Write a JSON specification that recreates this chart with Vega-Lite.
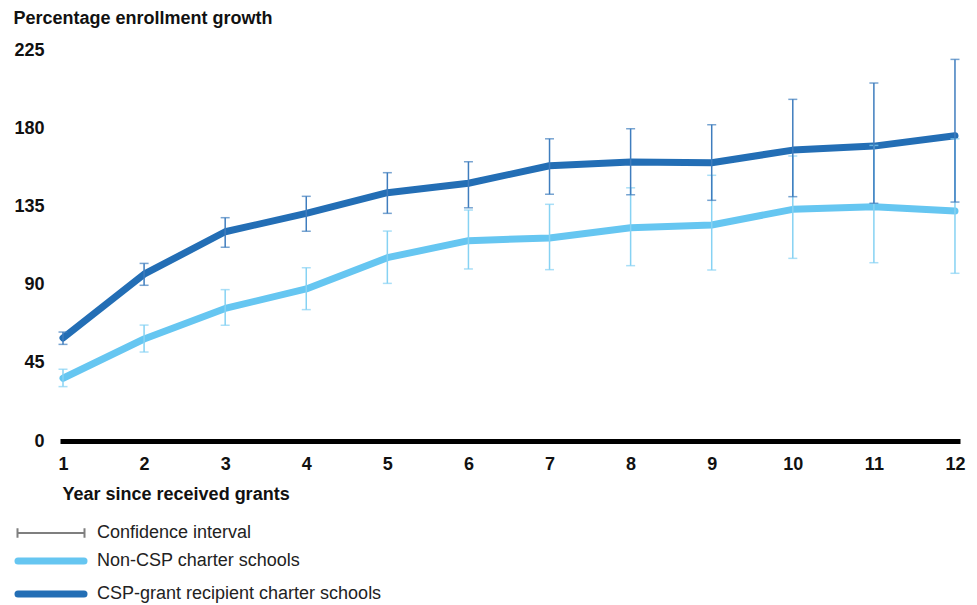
{
  "$schema": "https://vega.github.io/schema/vega-lite/v6.json",
  "width": 900,
  "height": 391,
  "autosize": {"type": "none"},
  "padding": {"left": 60, "top": 50, "right": 17, "bottom": 164},
  "background": "white",
  "config": {
    "font": "Liberation Sans",
    "view": {"stroke": null},
    "axisX": {
      "domain": true, "domainColor": "#000000", "domainWidth": 5, "domainCap": "butt",
      "ticks": false, "grid": false,
      "labelFontSize": 18, "labelFontWeight": "bold", "labelColor": "#111111", "labelPadding": 14,
      "titleFontSize": 18, "titleFontWeight": "bold", "titleColor": "#111111",
      "titleAnchor": "start", "titleAlign": "left", "titleBaseline": "alphabetic", "titleX": 2, "titleY": 58
    },
    "axisY": {
      "domain": false, "ticks": false, "grid": false,
      "labelFontSize": 18, "labelFontWeight": "bold", "labelColor": "#111111", "labelPadding": 16,
      "titleFontSize": 18, "titleFontWeight": "bold", "titleColor": "#111111",
      "titleAngle": 0, "titleAlign": "left", "titleBaseline": "alphabetic", "titleX": -47, "titleY": -27
    },
    "legend": {"padding": 0}
  },
  "data": {
    "values": [
      {"year": 1, "series": "CSP-grant recipient charter schools", "value": 59.3, "lo": 55.6, "hi": 62.7},
      {"year": 2, "series": "CSP-grant recipient charter schools", "value": 96.0, "lo": 89.6, "hi": 102.2},
      {"year": 3, "series": "CSP-grant recipient charter schools", "value": 120.4, "lo": 111.5, "hi": 128.5},
      {"year": 4, "series": "CSP-grant recipient charter schools", "value": 131.0, "lo": 120.7, "hi": 140.8},
      {"year": 5, "series": "CSP-grant recipient charter schools", "value": 142.9, "lo": 131.0, "hi": 154.4},
      {"year": 6, "series": "CSP-grant recipient charter schools", "value": 148.3, "lo": 134.2, "hi": 160.7},
      {"year": 7, "series": "CSP-grant recipient charter schools", "value": 158.4, "lo": 142.0, "hi": 173.9},
      {"year": 8, "series": "CSP-grant recipient charter schools", "value": 160.5, "lo": 141.7, "hi": 179.7},
      {"year": 9, "series": "CSP-grant recipient charter schools", "value": 160.1, "lo": 138.5, "hi": 182.0},
      {"year": 10, "series": "CSP-grant recipient charter schools", "value": 167.4, "lo": 140.6, "hi": 196.6},
      {"year": 11, "series": "CSP-grant recipient charter schools", "value": 169.7, "lo": 136.8, "hi": 206.0},
      {"year": 12, "series": "CSP-grant recipient charter schools", "value": 175.7, "lo": 137.5, "hi": 219.6},
      {"year": 1, "series": "Non-CSP charter schools", "value": 36.1, "lo": 31.3, "hi": 41.3},
      {"year": 2, "series": "Non-CSP charter schools", "value": 58.7, "lo": 51.2, "hi": 66.7},
      {"year": 3, "series": "Non-CSP charter schools", "value": 76.3, "lo": 66.6, "hi": 87.1},
      {"year": 4, "series": "Non-CSP charter schools", "value": 87.5, "lo": 75.6, "hi": 99.7},
      {"year": 5, "series": "Non-CSP charter schools", "value": 105.5, "lo": 90.7, "hi": 120.8},
      {"year": 6, "series": "Non-CSP charter schools", "value": 115.3, "lo": 99.0, "hi": 132.9},
      {"year": 7, "series": "Non-CSP charter schools", "value": 116.8, "lo": 98.6, "hi": 136.2},
      {"year": 8, "series": "Non-CSP charter schools", "value": 122.7, "lo": 100.9, "hi": 145.7},
      {"year": 9, "series": "Non-CSP charter schools", "value": 124.3, "lo": 98.4, "hi": 152.9},
      {"year": 10, "series": "Non-CSP charter schools", "value": 133.3, "lo": 105.1, "hi": 164.0},
      {"year": 11, "series": "Non-CSP charter schools", "value": 134.8, "lo": 102.6, "hi": 170.1},
      {"year": 12, "series": "Non-CSP charter schools", "value": 132.3, "lo": 96.5, "hi": 173.9}
    ]
  },
  "layer": [
    {
      "mark": {"type": "line", "strokeWidth": 7, "strokeCap": "round", "strokeJoin": "round"},
      "encoding": {
        "x": {
          "field": "year", "type": "quantitative", "title": "Year since received grants",
          "scale": {"domain": [0.963, 12.062], "nice": false, "zero": false},
          "axis": {"values": [1, 2, 3, 4, 5, 6, 7, 8, 9, 10, 11, 12], "format": "d"}
        },
        "y": {
          "field": "value", "type": "quantitative", "title": "Percentage enrollment growth",
          "scale": {"domain": [0, 225], "nice": false},
          "axis": {"values": [0, 45, 90, 135, 180, 225]}
        },
        "color": {
          "field": "series", "type": "nominal",
          "scale": {
            "domain": ["Confidence interval", "Non-CSP charter schools", "CSP-grant recipient charter schools"],
            "range": ["#7f7f7f", "#66C6F1", "#236EB5"]
          },
          "legend": {
            "title": null, "orient": "none", "legendX": -18, "legendY": 474, "direction": "vertical",
            "symbolType": "M-6.6,0L6.6,0", "symbolSize": 100, "symbolStrokeWidth": 7,
            "rowPadding": 5, "labelOffset": 37, "labelFontSize": 18, "labelColor": "#222222",
            "labelFont": "Liberation Sans", "labelLimit": 600,
            "encode": {
              "symbols": {
                "update": {
                  "shape": {"signal": "datum.value === 'Confidence interval' ? 'M-6.7,-0.95L-6.7,0.95M-6.7,0L6.7,0M6.7,-0.95L6.7,0.95' : 'M-6.6,0L6.6,0'"},
                  "strokeWidth": {"signal": "datum.value === 'Confidence interval' ? 2 : 7"},
                  "strokeCap": {"signal": "datum.value === 'Confidence interval' ? 'butt' : 'round'"}
                }
              }
            }
          }
        }
      }
    },
    {
      "transform": [{"filter": "datum.series === 'Non-CSP charter schools'"}],
      "mark": {"type": "errorbar", "ticks": true, "size": 9, "thickness": 1.5, "color": "#86D2F3"},
      "encoding": {
        "x": {"field": "year", "type": "quantitative", "title": "Year since received grants"},
        "y": {"field": "lo", "type": "quantitative", "title": "Percentage enrollment growth"},
        "y2": {"field": "hi"}
      }
    },
    {
      "transform": [{"filter": "datum.series === 'CSP-grant recipient charter schools'"}],
      "mark": {"type": "errorbar", "ticks": true, "size": 9, "thickness": 1.5, "color": "#3F7DBE"},
      "encoding": {
        "x": {"field": "year", "type": "quantitative", "title": "Year since received grants"},
        "y": {"field": "lo", "type": "quantitative", "title": "Percentage enrollment growth"},
        "y2": {"field": "hi"}
      }
    }
  ]
}
